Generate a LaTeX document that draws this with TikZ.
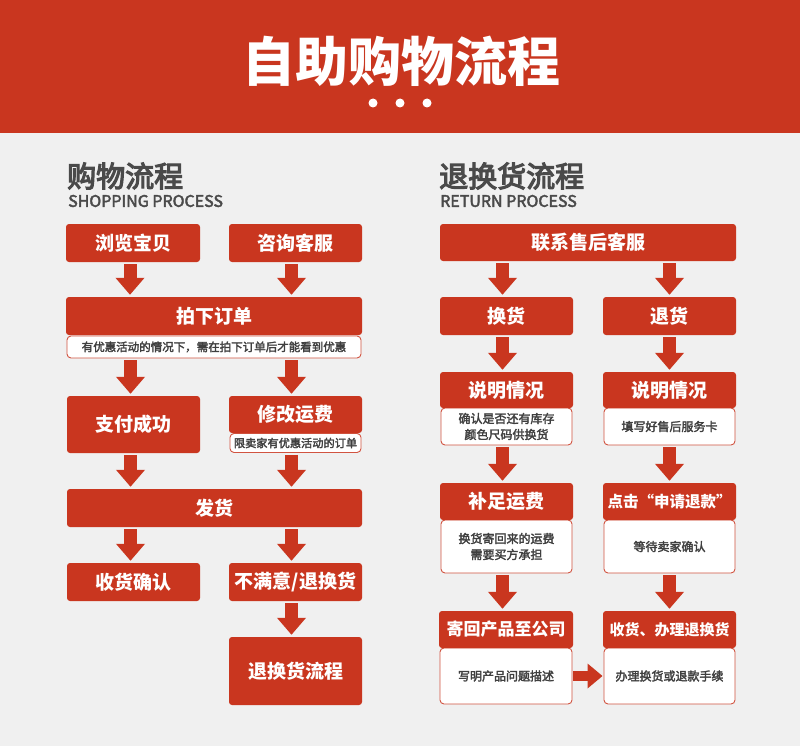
\documentclass[tikz,border=0pt]{standalone}
\usepackage{fontspec}
\setmainfont{Noto Sans CJK SC}
\newfontfamily\medfont[FakeBold=2.5]{Noto Sans CJK SC}
\newfontfamily\headfont[FakeBold=4]{Noto Sans CJK SC}
\usetikzlibrary{arrows.meta}
\definecolor{bg}{HTML}{F0F0F0}
\definecolor{myred}{HTML}{C9361F}
\definecolor{txt}{HTML}{3F3F3F}
\definecolor{headtxt}{HTML}{4A4A4A}
\begin{document}
\begin{tikzpicture}[x=1pt,y=-1pt,
  redbox/.style={rectangle, rounded corners=3pt, fill=myred, text=white, inner sep=0pt,
    font=\bfseries\fontsize{19}{22}\selectfont},
  notebox/.style={rectangle, rounded corners=4pt, draw=myred!85, line width=0.9pt, fill=white,
    text=txt, inner sep=0pt, align=center, font=\medfont\fontsize{12}{16}\selectfont},
  bigarrow/.style={draw=myred, line width=13pt, -{Triangle[width=28pt,length=17pt]},
    shorten <=2pt, shorten >=2pt},
  sidearrow/.style={draw=myred, line width=10pt, -{Triangle[width=24pt,length=15pt]},
    shorten <=1pt, shorten >=1pt},
  heading/.style={anchor=west, inner sep=0pt, text=headtxt, font=\headfont\fontsize{29}{32}\selectfont},
  subheading/.style={anchor=west, inner sep=0pt, text=headtxt, font=\medfont\fontsize{16}{20}\selectfont}
]
\useasboundingbox (0,0) rectangle (800,746);
\fill[bg] (0,0) rectangle (800,746);
% header
\fill[myred] (0,0) rectangle (800,133);
\node[text=white, inner sep=0pt, font=\bfseries\fontsize{53}{56}\selectfont] (title) at (401,61) {自助购物流程};
\fill[white] (373,103) circle[radius=4.5pt];
\fill[white] (400,103) circle[radius=4.5pt];
\fill[white] (427,103) circle[radius=4.5pt];

% headings
\node[heading] (hl) at (67,176) {购物流程};
\node[subheading] (hls) at (68,201) {SHOPPING PROCESS};
\node[heading] (hr) at (439,176) {退换货流程};
\node[subheading] (hrs) at (440,201) {RETURN PROCESS};

% left column
\node[redbox, minimum width=134pt, minimum height=38pt] (n1) at (133,243) {浏览宝贝};
\node[redbox, minimum width=133pt, minimum height=38pt] (n2) at (295.5,243) {咨询客服};
\node[notebox, minimum width=294pt, minimum height=22pt, font=\medfont\fontsize{11.5}{14}\selectfont] (n3note) at (214,347) {有优惠活动的情况下，需在拍下订单后才能看到优惠};
\node[redbox, minimum width=296pt, minimum height=38pt] (n3) at (214,316) {拍下订单};
\node[redbox, minimum width=133pt, minimum height=57pt] (n4) at (133.5,424.5) {支付成功};
\node[notebox, minimum width=131pt, minimum height=19pt, font=\medfont\fontsize{11.2}{14}\selectfont] (n5note) at (295.5,443) {限卖家有优惠活动的订单};
\node[redbox, minimum width=133pt, minimum height=37pt] (n5) at (295.5,414.5) {修改运费};
\node[redbox, minimum width=295pt, minimum height=38pt] (n6) at (214.5,508) {发货};
\node[redbox, minimum width=133pt, minimum height=38pt] (n7) at (133.5,582) {收货确认};
\node[redbox, minimum width=133pt, minimum height=38pt] (n8) at (295.5,582) {不满意/退换货};
\node[redbox, minimum width=133pt, minimum height=68pt] (n9) at (295.5,671) {退换货流程};

\draw[bigarrow] ([xshift=-3pt]n1.south) -- ([xshift=-3pt]n1.south |- n3.north);
\draw[bigarrow] ([xshift=-4pt]n2.south) -- ([xshift=-4pt]n2.south |- n3.north);
\draw[bigarrow] ([xshift=-3pt]n4.north |- n3note.south) -- ([xshift=-3pt]n4.north);
\draw[bigarrow] ([xshift=-4pt]n5.north |- n3note.south) -- ([xshift=-4pt]n5.north);
\draw[bigarrow] ([xshift=-3pt]n4.south) -- ([xshift=-3pt]n4.south |- n6.north);
\draw[bigarrow] ([xshift=-4pt]n5note.south) -- ([xshift=-4pt]n5note.south |- n6.north);
\draw[bigarrow] ([xshift=-3pt]n7.north |- n6.south) -- ([xshift=-3pt]n7.north);
\draw[bigarrow] ([xshift=-4pt]n8.north |- n6.south) -- ([xshift=-4pt]n8.north);
\draw[bigarrow] ([xshift=-4pt]n8.south) -- ([xshift=-4pt]n9.north);

% right column
\node[redbox, minimum width=296pt, minimum height=37pt] (r1) at (588,242.5) {联系售后客服};
\node[redbox, minimum width=133pt, minimum height=38pt] (r2) at (506.5,316) {换货};
\node[redbox, minimum width=133pt, minimum height=38pt] (r3) at (669.5,316) {退货};
\node[notebox, minimum width=131pt, minimum height=37pt] (r4n) at (506.5,426.5) {确认是否还有库存\\颜色尺码供换货};
\node[redbox, minimum width=133pt, minimum height=36pt] (r4) at (506.5,390) {说明情况};
\node[notebox, minimum width=131pt, minimum height=37pt] (r5n) at (669.5,426.5) {填写好售后服务卡};
\node[redbox, minimum width=133pt, minimum height=36pt] (r5) at (669.5,390) {说明情况};
\node[notebox, minimum width=131pt, minimum height=53pt] (r6n) at (506.5,546.5) {换货寄回来的运费\\需要买方承担};
\node[redbox, minimum width=133pt, minimum height=37pt] (r6) at (506.5,501.5) {补足运费};
\node[notebox, minimum width=131pt, minimum height=53pt] (r7n) at (669.5,546.5) {等待卖家确认};
\node[redbox, minimum width=133pt, minimum height=37pt, font=\bfseries\fontsize{15.5}{18}\selectfont] (r7) at (669.5,501.5) {点击“申请退款”};
\node[notebox, minimum width=132pt, minimum height=56pt] (r8n) at (506,676) {写明产品问题描述};
\node[redbox, minimum width=134pt, minimum height=37pt, font=\bfseries\fontsize{17}{20}\selectfont] (r8) at (506,629.5) {寄回产品至公司};
\node[notebox, minimum width=131pt, minimum height=56pt] (r9n) at (669.5,676) {办理换货或退款手续};
\node[redbox, minimum width=133pt, minimum height=37pt, font=\bfseries\fontsize{15}{18}\selectfont] (r9) at (669.5,629.5) {收货、办理退换货};

\draw[bigarrow] ([xshift=-4pt]r2.north |- r1.south) -- ([xshift=-4pt]r2.north);
\draw[bigarrow] (r3.north |- r1.south) -- (r3.north);
\draw[bigarrow] ([xshift=-4pt]r2.south) -- ([xshift=-4pt]r4.north);
\draw[bigarrow] (r3.south) -- (r5.north);
\draw[bigarrow] ([xshift=-4pt]r4n.south) -- ([xshift=-4pt]r6.north);
\draw[bigarrow] (r5n.south) -- (r7.north);
\draw[bigarrow] ([xshift=-4pt]r6n.south) -- ([xshift=-4pt]r6n.south |- r8.north);
\draw[bigarrow] (r7n.south) -- (r9.north);
\draw[sidearrow] (r8n.east) -- (r9n.west);
\end{tikzpicture}
\end{document}
